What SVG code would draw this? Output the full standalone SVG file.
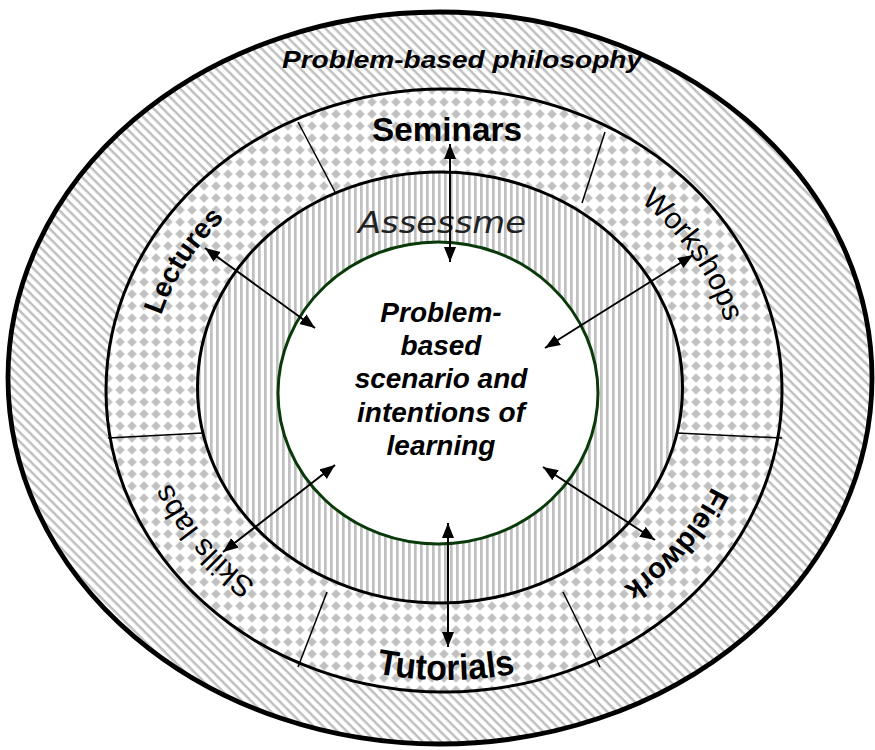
<svg xmlns="http://www.w3.org/2000/svg" width="875" height="750" viewBox="0 0 875 750">
<style>
  .ring { stroke: #000; }
  .div { stroke: #000; stroke-width: 1.5; fill: none; }
  .arrow { stroke: #000; stroke-width: 2; fill: none; marker-start: url(#ah); marker-end: url(#ah); }
  .lbl { font-family: "Liberation Sans", Arial, sans-serif; fill: #000; }
  .b { font-weight: bold; }
  .core { font-family: "Liberation Sans", Arial, sans-serif; font-weight: bold; font-style: italic; font-size: 28px; fill: #000; text-anchor: middle; }
</style>
<defs>
  <pattern id="diag" patternUnits="userSpaceOnUse" width="6.6" height="6.6" patternTransform="rotate(45)">
    <rect width="6.6" height="6.6" fill="#fff"/>
    <rect width="6.6" height="2.5" fill="#c0c0c0"/>
  </pattern>
  <pattern id="dia" patternUnits="userSpaceOnUse" width="16.97" height="16.97" patternTransform="rotate(45)">
    <rect width="16.97" height="16.97" fill="#fff"/>
    <rect x="0.9" y="0.9" width="6.7" height="6.7" fill="#c0c0c0"/>
    <rect x="9.38" y="9.38" width="6.7" height="6.7" fill="#c0c0c0"/>
  </pattern>
  <pattern id="vert" patternUnits="userSpaceOnUse" width="6" height="10">
    <rect width="6" height="10" fill="#fff"/>
    <rect width="2.7" height="10" fill="#c0c0c0"/>
  </pattern>
  <marker id="ah" markerUnits="userSpaceOnUse" markerWidth="16" markerHeight="13" refX="15" refY="6" orient="auto-start-reverse" viewBox="0 0 16 13">
    <path d="M0,0 L15,6 L0,12 z" fill="#000"/>
  </marker>
  <path id="p-work" d="M618.3,186 A293,253 0 0 1 731.4,348.4"/>
  <path id="p-field" d="M725,453.5 A293,253 0 0 1 592.9,604.9"/>
  <path id="p-skills" d="M286.7,602.5 A293,253 0 0 1 157.7,449.2"/>
  <path id="p-lect" d="M151.2,357.2 A293,253 0 0 1 257.6,191.4"/>
  <path id="p-tut" d="M356,669 A372,372 0 0 0 536,669"/>
</defs>

<g id="ring-philosophy">
  <ellipse cx="440" cy="378" rx="432" ry="366" fill="url(#diag)" class="ring" stroke-width="4.8"/>
  <text class="lbl b" x="282" y="68" font-size="24" font-style="italic" textLength="360" lengthAdjust="spacingAndGlyphs">Problem-based philosophy</text>
</g>

<g id="ring-methods">
  <ellipse cx="444" cy="390.5" rx="338" ry="301.5" fill="url(#dia)" class="ring" stroke-width="3"/>
</g>

<g id="ring-assessment">
  <ellipse cx="440" cy="387.5" rx="242.5" ry="215.5" fill="url(#vert)" class="ring" stroke-width="3"/>
  <text x="442" y="233" font-family="'DejaVu Sans', sans-serif" font-style="italic" font-size="30" fill="#222" text-anchor="middle" textLength="168" lengthAdjust="spacingAndGlyphs">Assessme</text>
</g>

<g id="dividers">
  <line class="div" x1="298" y1="122" x2="335" y2="192"/>
  <line class="div" x1="605" y1="132" x2="582" y2="203"/>
  <line class="div" x1="108" y1="438" x2="203" y2="433"/>
  <line class="div" x1="677" y1="433" x2="782" y2="438"/>
  <line class="div" x1="327" y1="592" x2="298" y2="667"/>
  <line class="div" x1="563" y1="592" x2="600" y2="667"/>
</g>

<g id="core">
  <ellipse cx="438" cy="393" rx="160" ry="151" fill="#fff" stroke="#0a3a0a" stroke-width="3"/>
  <text class="core" x="441" y="322">Problem-</text>
  <text class="core" x="441" y="355">based</text>
  <text class="core" x="441" y="388">scenario and</text>
  <text class="core" x="441" y="422">intentions of</text>
  <text class="core" x="441" y="455">learning</text>
</g>

<g id="seminars">
  <text class="lbl b" x="447" y="141" font-size="34" text-anchor="middle" textLength="150" lengthAdjust="spacingAndGlyphs">Seminars</text>
</g>
<g id="workshops">
  <text class="lbl" font-size="30"><textPath href="#p-work" startOffset="50%" text-anchor="middle">Workshops</textPath></text>
</g>
<g id="fieldwork">
  <text class="lbl b" font-size="29"><textPath href="#p-field" startOffset="50%" text-anchor="middle">Fieldwork</textPath></text>
</g>
<g id="tutorials">
  <text class="lbl b" font-size="36"><textPath href="#p-tut" startOffset="50%" text-anchor="middle" textLength="140" lengthAdjust="spacingAndGlyphs">Tutorials</textPath></text>
</g>
<g id="skills-labs">
  <text class="lbl" font-size="30"><textPath href="#p-skills" startOffset="50%" text-anchor="middle">Skills labs</textPath></text>
</g>
<g id="lectures">
  <text class="lbl b" font-size="28"><textPath href="#p-lect" startOffset="50%" text-anchor="middle">Lectures</textPath></text>
</g>

<g id="connectors">
  <line class="arrow" x1="450" y1="144" x2="450" y2="262"/>
  <line class="arrow" x1="448" y1="523" x2="448" y2="647"/>
  <line class="arrow" x1="205" y1="248" x2="315" y2="328"/>
  <line class="arrow" x1="693" y1="255" x2="545" y2="348"/>
  <line class="arrow" x1="335" y1="465" x2="223" y2="552"/>
  <line class="arrow" x1="543" y1="467" x2="655" y2="540"/>
</g>
</svg>
